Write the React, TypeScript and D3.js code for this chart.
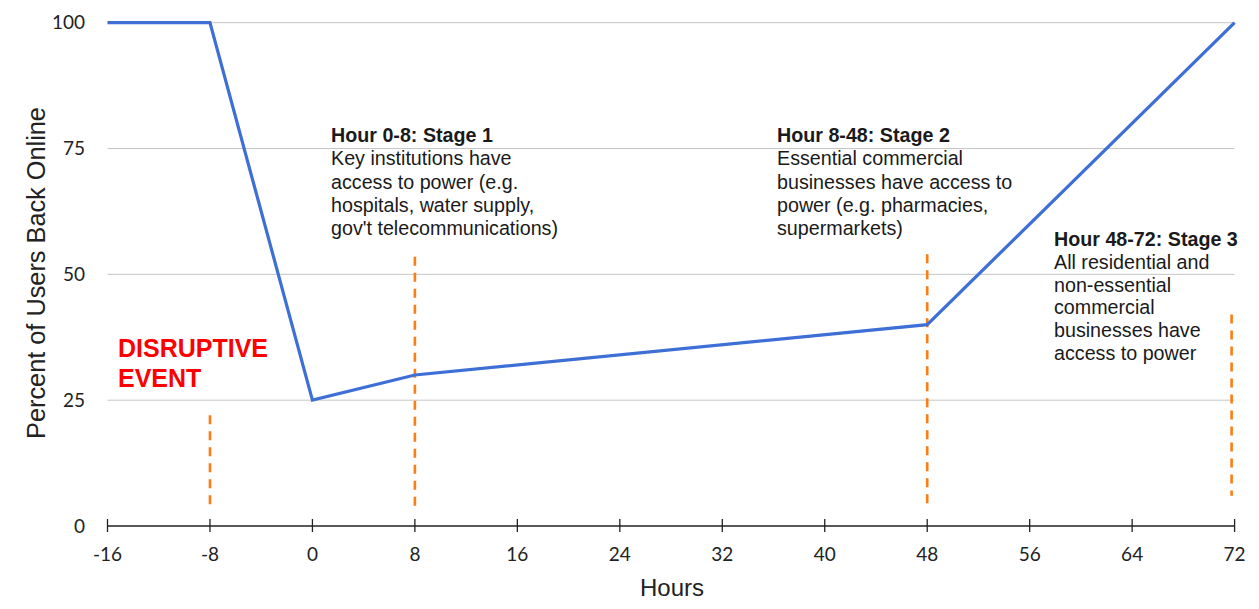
import React from "react";
import * as d3 from "d3";

const hours = [-16, -8, 0, 8, 48, 72];
const percentOnline = [100, 100, 25, 30, 40, 100];
const xTicks = [-16, -8, 0, 8, 16, 24, 32, 40, 48, 56, 64, 72];
const yTicks = [0, 25, 50, 75, 100];
const markerHours = [-8, 8, 48, 72];
const markerTop = [22, 53.5, 54, 42];
const markerBottom = [3, 3, 3.5, 6];

const stage1 = ["Hour 0-8: Stage 1", "Key institutions have", "access to power (e.g.", "hospitals, water supply,", "gov't telecommunications)"];
const stage2 = ["Hour 8-48: Stage 2", "Essential commercial", "businesses have access to", "power (e.g. pharmacies,", "supermarkets)"];
const stage3 = ["Hour 48-72: Stage 3", "All residential and", "non-essential", "commercial", "businesses have", "access to power"];
const eventLabel = ["DISRUPTIVE", "EVENT"];

const W = 1259;
const H = 609;

export default function App() {
  const x = d3.scaleLinear().domain([-16, 72]).range([107.5, 1234.6]);
  const y = d3.scaleLinear().domain([0, 100]).range([526, 22.7]);
  const line = d3
    .line<number>()
    .x((_, i) => x(hours[i]))
    .y((d) => y(d));

  const annoFont = "'Liberation Sans', Arial, sans-serif";
  const tickFont = "Lato, 'Liberation Sans', sans-serif";

  const block = (lines: string[], left: number, top: number, step: number, key: string) => (
    <g key={key} fontFamily={annoFont} fontSize={19.7} fill="#1a1a1a">
      {lines.map((t, i) => (
        <text key={i} x={left} y={top + i * step} fontWeight={i === 0 ? "bold" : "normal"}>
          {t}
        </text>
      ))}
    </g>
  );

  return (
    <svg width={W} height={H} style={{ position: "absolute", left: 0, top: 0, background: "#fff" }}>
      <rect x={0} y={0} width={W} height={H} fill="#fff" />
      {yTicks
        .filter((v) => v > 0)
        .map((v) => (
          <line key={v} x1={x(-16)} x2={x(72)} y1={y(v)} y2={y(v)} stroke="#c6c6c6" strokeWidth={1} />
        ))}
      {yTicks.map((v) => (
        <text key={v} x={85} y={y(v) + 6.5} textAnchor="end" fontFamily={tickFont} fontSize={19} fill="#222">
          {v}
        </text>
      ))}
      <line x1={x(-16)} x2={x(72)} y1={y(0)} y2={y(0)} stroke="#222" strokeWidth={1.3} />
      {xTicks.map((v) => (
        <g key={v}>
          <line x1={x(v)} x2={x(v)} y1={y(0) - 7} y2={y(0) + 6} stroke="#222" strokeWidth={1.3} />
          <text x={x(v)} y={561} textAnchor="middle" fontFamily={tickFont} fontSize={19} fill="#222">
            {v}
          </text>
        </g>
      ))}
      {markerHours.map((h, i) => (
        <line
          key={h}
          x1={x(h) - (h === 72 ? 3 : 0)}
          x2={x(h) - (h === 72 ? 3 : 0)}
          y1={y(markerTop[i])}
          y2={y(markerBottom[i])}
          stroke="#fb7d14"
          strokeWidth={2.6}
          strokeDasharray="9,7"
        />
      ))}
      <path d={line(percentOnline) || ""} fill="none" stroke="#3d6fd6" strokeWidth={3.2} strokeLinejoin="miter" />
      {block(stage1, 331, 142, 23.3, "s1")}
      {block(stage2, 777, 142, 23.3, "s2")}
      {block(stage3, 1054, 246, 22.8, "s3")}
      <g fontFamily={annoFont} fontSize={25} fontWeight="bold" fill="#ff0000">
        {eventLabel.map((t, i) => (
          <text key={i} x={118} y={357 + i * 29.5}>
            {t}
          </text>
        ))}
      </g>
      <text x={672} y={596} textAnchor="middle" fontFamily={annoFont} fontSize={24} fill="#222">
        Hours
      </text>
      <text
        transform={`translate(45, ${273}) rotate(-90)`}
        textAnchor="middle"
        fontFamily={annoFont}
        fontSize={25.3}
        fill="#222"
      >
        Percent of Users Back Online
      </text>
    </svg>
  );
}
